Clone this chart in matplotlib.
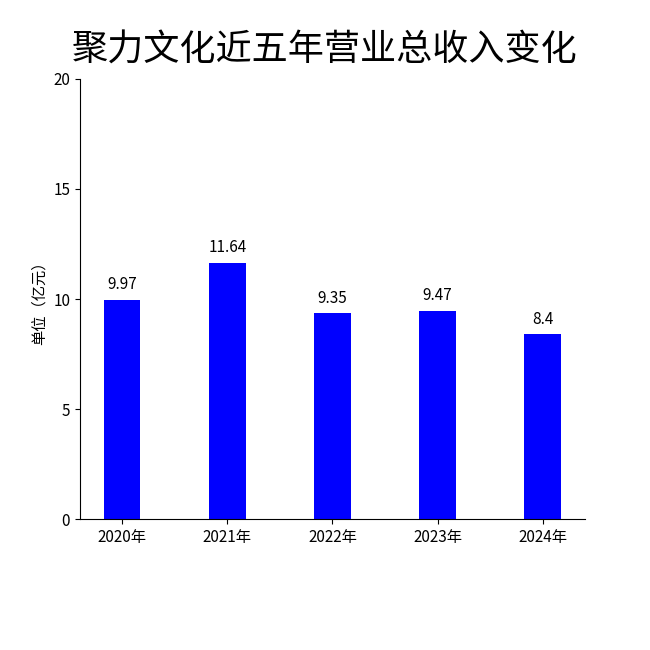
import matplotlib
matplotlib.use("Agg")
import matplotlib.pyplot as plt

plt.rcParams['font.family'] = ['Noto Sans CJK SC', 'DejaVu Sans']

categories = ["2020年", "2021年", "2022年", "2023年", "2024年"]
values = [9.97, 11.64, 9.35, 9.47, 8.4]
labels = ["9.97", "11.64", "9.35", "9.47", "8.4"]

fig = plt.figure(figsize=(6.5, 6.5), dpi=100)
ax = fig.add_axes([0.123, 0.2015, 0.777, 0.677])
x = range(len(categories))
bars = ax.bar(x, values, width=0.35, color="#0000ff")
for xi, v, l in zip(x, values, labels):
    ax.text(xi, v + 0.3, l, ha="center", va="bottom", fontsize=11)
ax.set_xticks(list(x))
ax.set_xticklabels(categories, fontsize=11)
ax.set_xlim(-0.4, 4.4)
ax.set_ylim(0, 20)
ax.set_yticks([0, 5, 10, 15, 20])
ax.tick_params(axis='y', labelsize=11)
ax.set_ylabel("单位（亿元）", fontsize=11)
ax.spines['top'].set_visible(False)
ax.spines['right'].set_visible(False)
fig.text(0.5, 0.922, "聚力文化近五年营业总收入变化", ha="center", va="center", fontsize=26)
fig.savefig("out.png", dpi=100)
